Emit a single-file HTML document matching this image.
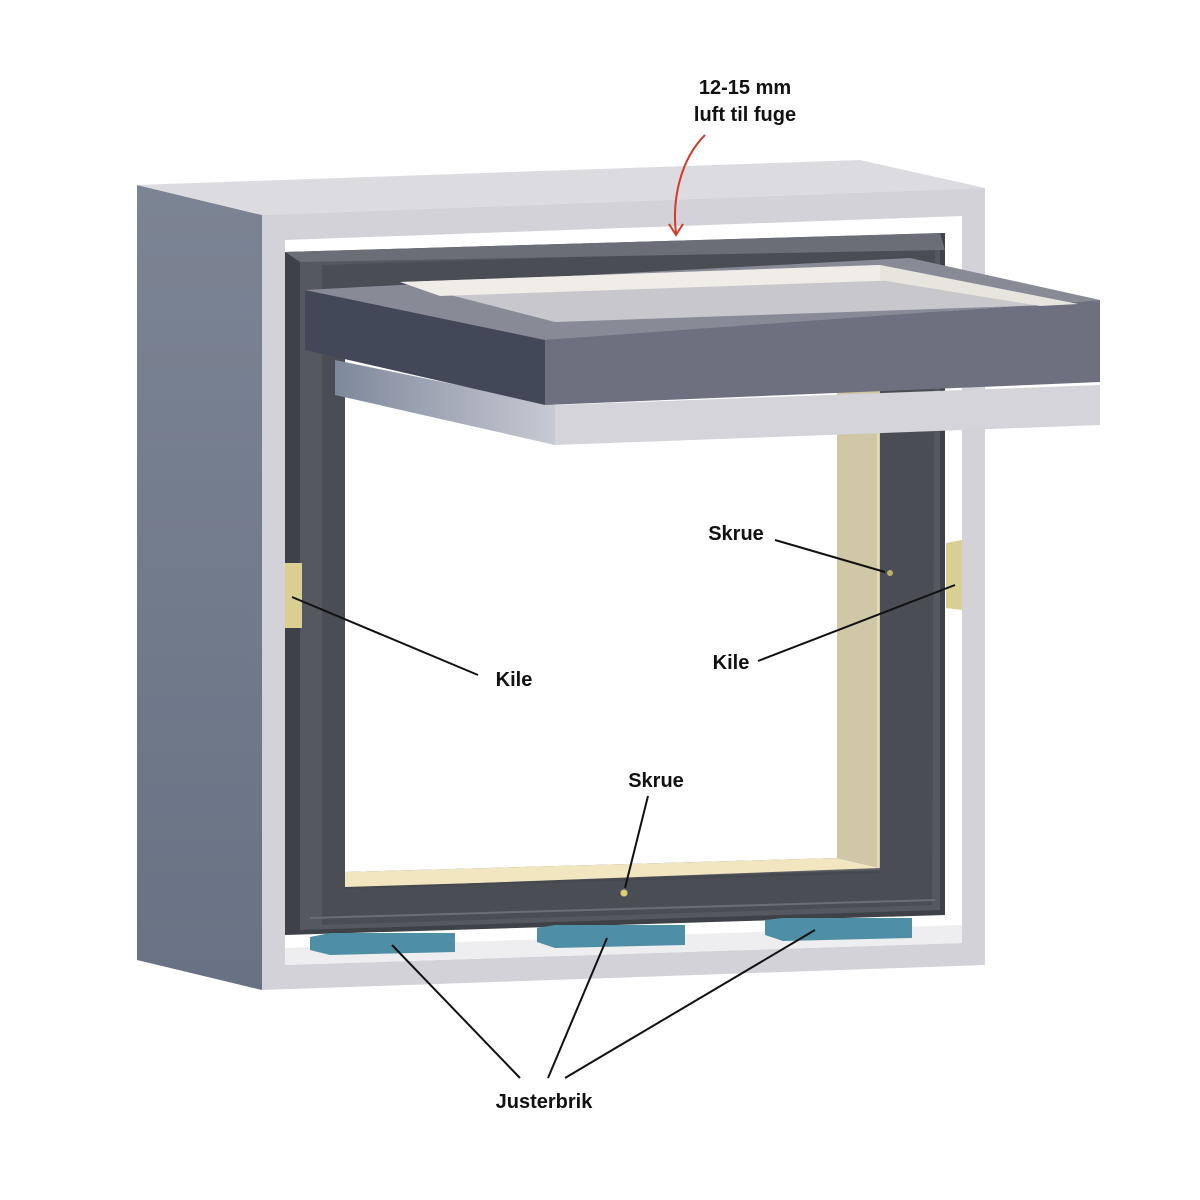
<!DOCTYPE html>
<html><head><style>
html,body{margin:0;padding:0;background:#fff;}
svg{display:block}
text{font-family:"Liberation Sans",sans-serif;font-weight:bold;font-size:20px;fill:#111;text-anchor:middle}
</style></head><body>
<svg width="1200" height="1200" viewBox="0 0 1200 1200">
<defs>
<linearGradient id="side" x1="0" y1="0" x2="0" y2="1"><stop offset="0" stop-color="#7c8494"/><stop offset="1" stop-color="#687284"/></linearGradient>
<linearGradient id="blk" x1="0" y1="0" x2="1" y2="0"><stop offset="0" stop-color="#7e889c"/><stop offset="1" stop-color="#c8cad2"/></linearGradient>
</defs>
<polygon points="137,185 262,215 262,990 137,960" fill="url(#side)"/>
<polygon points="137,185 860,160 985,188 262,215" fill="#dcdce0"/>
<polygon points="262,215 985,188 985,965 262,990" fill="#d2d2d8"/>
<polygon points="285,240 962,216 962,943 285,965" fill="#ffffff"/>
<polygon points="285,948 962,925 962,943 285,965" fill="#eeeef0"/>
<polygon points="285,252 945,233 945,915 285,935" fill="#3e4147"/>
<polygon points="300,258 940,240 940,910 300,930" fill="#55585f"/>
<polygon points="322,265 935,246 932,905 322,925" fill="#4a4d54"/>
<polygon points="345,350 880,340 880,870 345,885" fill="#5c5f66"/>
<polygon points="345,350 837,350 837,858 345,872" fill="#ffffff"/>
<polygon points="837,350 880,350 880,868 837,858" fill="#cfc7a6"/>
<polygon points="345,872 837,858 880,868 345,888" fill="#f2e6c0"/>
<line x1="878" y1="425" x2="878" y2="868" stroke="#e8dcb4" stroke-width="2"/>
<line x1="345" y1="888" x2="880" y2="872" stroke="#45484e" stroke-width="2"/>
<line x1="310" y1="918" x2="935" y2="900" stroke="#6a6d74" stroke-width="2"/>
<circle cx="624" cy="893" r="4" fill="#d8d070" stroke="#555" stroke-width="1"/>
<circle cx="890" cy="573" r="3" fill="#b8b070"/>
<polygon points="285,563 302,563 302,628 285,628" fill="#d9cf92"/>
<polygon points="946,543 962,540 962,610 946,608" fill="#d9cf92"/>
<polygon points="310,937 330,933 455,933 455,952 330,955 310,950" fill="#4f8fa5"/>
<polygon points="537,928 555,925 685,925 685,945 555,948 537,942" fill="#4f8fa5"/>
<polygon points="765,920 783,918 912,918 912,938 783,941 765,935" fill="#4f8fa5"/>
<polygon points="285,252 940,233 945,250 300,262" fill="#6b6e76"/>
<polygon points="335,360 555,405 555,445 335,395" fill="url(#blk)"/>
<polygon points="555,405 1100,385 1100,425 555,445" fill="#d4d4da"/>
<polygon points="305,290 545,340 545,405 305,350" fill="#434858"/>
<polygon points="545,340 1100,300 1100,382 545,405" fill="#6e7080"/>
<polygon points="305,290 910,258 1100,300 545,340" fill="#888a96"/>
<polygon points="400,282 880,265 1078,304 555,322" fill="#c8c8cc"/>
<polygon points="400,282 880,265 905,280 440,296" fill="#f0ece8"/>
<polygon points="880,265 1078,304 1040,306 880,280" fill="#e8e4de"/>
<path d="M705,135 C680,160 672,200 676,233" fill="none" stroke="#d23a2a" stroke-width="2"/>
<path d="M669,224 L676,235 L683,224" fill="none" stroke="#d23a2a" stroke-width="2"/>
<g stroke="#111" stroke-width="2" fill="none">
<line x1="775" y1="540" x2="885" y2="572"/>
<line x1="758" y1="661" x2="955" y2="585"/>
<line x1="478" y1="675" x2="292" y2="597"/>
<line x1="648" y1="796" x2="625" y2="888"/>
<line x1="520" y1="1078" x2="392" y2="945"/>
<line x1="548" y1="1078" x2="607" y2="938"/>
<line x1="565" y1="1078" x2="815" y2="930"/>
</g>
<text x="745" y="94">12-15 mm</text>
<text x="745" y="121">luft til fuge</text>
<text x="736" y="540">Skrue</text>
<text x="731" y="669">Kile</text>
<text x="514" y="686">Kile</text>
<text x="656" y="787">Skrue</text>
<text x="544" y="1108">Justerbrik</text>
</svg>
</body></html>
